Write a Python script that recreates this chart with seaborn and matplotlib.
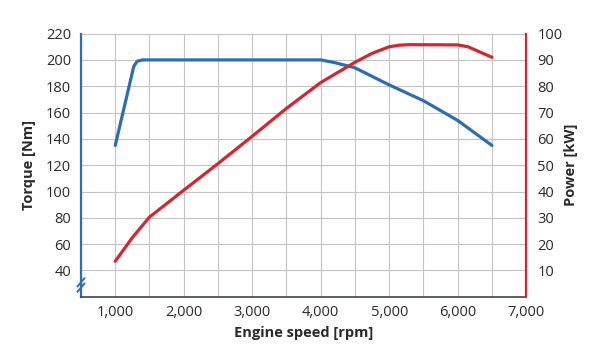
import matplotlib
matplotlib.use("Agg")
import matplotlib.pyplot as plt
import seaborn as sns
import pandas as pd
from matplotlib.ticker import FuncFormatter, MultipleLocator

# ---- data ----
torque_rpm = [1000, 1270, 1320, 1400, 2000, 3000, 4000, 4200, 4500, 5000, 5500, 6000, 6500]
torque_nm = [135, 195, 199, 200, 200, 200, 200, 198, 194, 181, 169, 154, 135]

power_rpm = [1000, 1250, 1500, 2000, 2500, 3000, 3500, 4000, 4500, 4750, 5000, 5150, 5300, 6000, 6150, 6500]
power_kw = [13.5, 22.5, 30.3, 40.5, 50.6, 61, 71.6, 81.4, 89.1, 92.5, 95, 95.6, 95.8, 95.7, 95.0, 91]

x_ticks = [1000, 2000, 3000, 4000, 5000, 6000, 7000]
torque_ticks = [40, 60, 80, 100, 120, 140, 160, 180, 200, 220]
power_ticks = [10, 20, 30, 40, 50, 60, 70, 80, 90, 100]

BLUE = "#2f6db3"
RED = "#d3262f"
TXT = "#2a2a2a"

sns.set_theme(style="white")
plt.rcParams['font.family'] = ['Open Sans', 'DejaVu Sans']

df_t = pd.DataFrame({"rpm": torque_rpm, "torque": torque_nm})
df_p = pd.DataFrame({"rpm": power_rpm, "power": power_kw})

fig = plt.figure(figsize=(6, 3.5), dpi=100)
ax = fig.add_axes([0.135, 0.152, 0.742, 0.752])
ax2 = ax.twinx()

# grid
ax.set_xlim(500, 7000)
ax.set_ylim(20, 220)
ax2.set_ylim(0, 100)
ax.set_xticks(x_ticks)
ax.xaxis.set_minor_locator(MultipleLocator(500))
ax.set_yticks(torque_ticks)
ax2.set_yticks(power_ticks)
ax.grid(True, which="both", axis="x", color="#c4c4c4", lw=0.8)
ax.grid(True, which="major", axis="y", color="#c4c4c4", lw=0.8)
ax.set_axisbelow(True)

sns.lineplot(data=df_t, x="rpm", y="torque", ax=ax, color=BLUE, lw=2.3, zorder=3)
sns.lineplot(data=df_p, x="rpm", y="power", ax=ax2, color=RED, lw=2.3, zorder=3)

ax.xaxis.set_major_formatter(FuncFormatter(lambda v, p: f"{int(v):,}"))

for a in (ax, ax2):
    a.tick_params(axis="both", which="both", length=0, labelsize=10.5, colors=TXT)
    a.spines["top"].set_visible(False)
ax.tick_params(axis="y", pad=7)
ax2.tick_params(axis="y", pad=8)
ax.tick_params(axis="x", pad=6)

ax.spines["left"].set_color(BLUE)
ax.spines["left"].set_linewidth(1.6)
ax.spines["right"].set_visible(False)
ax.spines["bottom"].set_color("#3a4656")
ax.spines["bottom"].set_linewidth(1.2)
ax2.spines["left"].set_visible(False)
ax2.spines["bottom"].set_visible(False)
ax2.spines["right"].set_color(RED)
ax2.spines["right"].set_linewidth(1.6)

ax.set_xlabel("Engine speed [rpm]", fontsize=10.5, fontweight="bold", color=TXT, labelpad=4)
ax.set_ylabel("Torque [Nm]", fontsize=10.5, fontweight="bold", color=TXT, labelpad=7)
ax2.set_ylabel("Power [kW]", fontsize=10.5, fontweight="bold", color=TXT, labelpad=1)

# axis break mark on left spine
for yc in (0.035, 0.055):
    ax.plot([-0.008, 0.008], [yc - 0.016, yc + 0.016], transform=ax.transAxes,
            color=BLUE, lw=1.4, clip_on=False, zorder=5)

fig.savefig("out.png", dpi=100)
